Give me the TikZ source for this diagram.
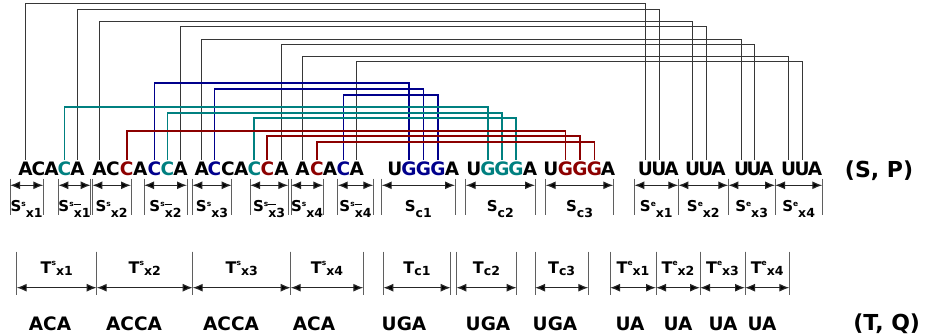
\documentclass[tikz,border=0pt]{standalone}
\usepackage{fontspec}
\setmainfont{DejaVu Sans}
\usetikzlibrary{arrows.meta,calc}
\definecolor{tealc}{RGB}{0,128,128}
\definecolor{bluec}{RGB}{0,0,140}
\definecolor{redc}{RGB}{140,0,0}
\definecolor{conc}{RGB}{55,55,55}
\definecolor{tickc}{RGB}{95,95,95}
\newcommand{\Sl}[3]{{\fontsize{15}{15}\selectfont #1}\raisebox{5pt}{\fontsize{7.5}{7.5}\selectfont #2}\raisebox{-6.5pt}{\fontsize{12.5}{12.5}\selectfont #3}}
\newcommand{\Tl}[3]{{\fontsize{16}{16}\selectfont #1}\raisebox{7.5pt}{\fontsize{7.5}{7.5}\selectfont #2}\raisebox{-2pt}{\fontsize{12.5}{12.5}\selectfont #3}}
\newcommand{\xb}[1]{\makebox[0pt][l]{\raisebox{12.5pt}{\rule{7.5pt}{1pt}}}x#1}
\tikzset{
  let/.style={font=\fontsize{18.5}{18.5}\selectfont\bfseries, anchor=base, inner sep=0pt,
    text height=13.5pt, text depth=0pt, outer ysep=2pt},
  word/.style={font=\fontsize{18.5}{18.5}\selectfont\bfseries, anchor=base, inner sep=0pt},
  big/.style={font=\fontsize{22}{22}\selectfont\bfseries, anchor=base, inner sep=0pt},
  con/.style={draw=conc, line width=0.9pt},
  conb/.style={draw=bluec, line width=1.7pt},
  cont/.style={draw=tealc, line width=1.7pt},
  conr/.style={draw=redc, line width=1.7pt},
  tickline/.style={draw=tickc, line width=1pt},
  dimline/.style={draw=black!85, line width=1.2pt,
    {Latex[length=10pt,width=8pt,fill=black]}-{Latex[length=10pt,width=8pt,fill=black]}},
  slab/.style={font=\bfseries, anchor=base, inner sep=0pt},
}
\begin{document}
\begin{tikzpicture}[x=1pt,y=-1pt]
\useasboundingbox (0,0) rectangle (928,334);
% ---- sequence letters (S, P)
\foreach \x/\c/\t [count=\i] in {25.5/black/A,38.5/black/C,51.5/black/A,64.5/tealc/C,77.5/black/A}
  \node[let,text=\c] (g1l\i) at (\x,175) {\t};
\foreach \x/\c/\t [count=\i] in {99.5/black/A,113/black/C,126.7/redc/C,140.3/black/A,154.5/bluec/C,167.5/tealc/C,180.5/black/A}
  \node[let,text=\c] (g2l\i) at (\x,175) {\t};
\foreach \x/\c/\t [count=\i] in {201.7/black/A,214.5/bluec/C,228/black/C,241.3/black/A,254.3/tealc/C,267.3/redc/C,281.5/black/A}
  \node[let,text=\c] (g3l\i) at (\x,175) {\t};
\foreach \x/\c/\t [count=\i] in {302.5/black/A,316.8/redc/C,330/black/A,343.5/bluec/C,356.8/black/A}
  \node[let,text=\c] (g4l\i) at (\x,175) {\t};
\foreach \x/\c/\t [count=\i] in {395/black/U,409/bluec/G,423.5/bluec/G,438/bluec/G,452/black/A}
  \node[let,text=\c] (c1l\i) at (\x,175) {\t};
\foreach \x/\c/\t [count=\i] in {474/black/U,488/tealc/G,502/tealc/G,516/tealc/G,530/black/A}
  \node[let,text=\c] (c2l\i) at (\x,175) {\t};
\foreach \x/\c/\t [count=\i] in {551/black/U,565.5/redc/G,580/redc/G,594.5/redc/G,608/black/A}
  \node[let,text=\c] (c3l\i) at (\x,175) {\t};
\foreach \x/\t [count=\i] in {645.5/U,659/U,671.5/A}
  \node[let] (e1l\i) at (\x,175) {\t};
\foreach \x/\t [count=\i] in {692.5/U,706/U,718.5/A}
  \node[let] (e2l\i) at (\x,175) {\t};
\foreach \x/\t [count=\i] in {741.5/U,754/U,766.5/A}
  \node[let] (e3l\i) at (\x,175) {\t};
\foreach \x/\t [count=\i] in {788.5/U,802/U,815/A}
  \node[let] (e4l\i) at (\x,175) {\t};
\node[big] (sp) at (879,177) {(S, P)};
% ---- connectors
\draw[con] (g1l1.north) -- ++(0,-156.2) -| (e1l1.north);
\draw[con] (g1l5.north) -- ++(0,-150.5) -| (e1l2.north);
\draw[con] (g2l1.north) -- ++(0,-138.2) -| (e2l1.north);
\draw[con] (g2l7.north) -- ++(0,-132.8) -| (e2l2.north);
\draw[con] (g3l1.north) -- ++(0,-120.5) -| (e3l1.north);
\draw[con] (g3l7.north) -- ++(0,-115.2) -| (e3l2.north);
\draw[con] (g4l1.north) -- ++(0,-103.5) -| (e4l1.north);
\draw[con] (g4l5.north) -- ++(0,-98.2) -| (e4l2.north);
\draw[conb] (g2l5.north) -- ++(0,-76.2) -| (c1l2.north);
\draw[conb] (g3l2.north) -- ++(0,-70.5) -| (c1l3.north);
\draw[conb] (g4l4.north) -- ++(0,-64.5) -| (c1l4.north);
\draw[cont] (g1l4.north) -- ++(0,-52.5) -| (c2l2.north);
\draw[cont] (g2l6.north) -- ++(0,-46.8) -| (c2l3.north);
\draw[cont] (g3l5.north) -- ++(0,-41.2) -| (c2l4.north);
\draw[conr] (g2l3.north) -- ++(0,-28.8) -| (c3l2.north);
\draw[conr] (g3l6.north) -- ++(0,-23.2) -| (c3l3.north);
\draw[conr] (g4l2.north) -- ++(0,-17.5) -| (c3l4.north);
% ---- S row segments
\foreach \l/\r/\t [count=\i] in {
  10/43.3/{\Sl{S}{s}{x1}},
  58.3/90.7/{\Sl{S}{s}{\xb{1}}},
  92.3/131/{\Sl{S}{s}{x2}},
  144/187/{\Sl{S}{s}{\xb{2}}},
  192.3/231.7/{\Sl{S}{s}{x3}},
  250/288.3/{\Sl{S}{s}{\xb{3}}},
  291/323.3/{\Sl{S}{s}{x4}},
  337.7/373.3/{\Sl{S}{s}{\xb{4}}},
  381.7/455/{\Sl{S}{}{c1}},
  465.7/535/{\Sl{S}{}{c2}},
  545.7/613.3/{\Sl{S}{}{c3}},
  634.3/678.3/{\Sl{S}{e}{x1}},
  678.3/728.3/{\Sl{S}{e}{x2}},
  728.3/775/{\Sl{S}{e}{x3}},
  775/822.3/{\Sl{S}{e}{x4}}}{
  \coordinate (sa\i) at (\l,178.7);
  \coordinate (sb\i) at (\r,178.7);
  \coordinate (sc\i) at (\l,215.3);
  \coordinate (sd\i) at (\r,215.3);
  \draw[tickline] (sa\i) -- (sc\i) (sb\i) -- (sd\i);
  \draw[dimline] ($(sa\i)+(0,6.6)$) -- ($(sb\i)+(0,6.6)$);
  \node[slab] (sl\i) at ({(\l+\r)/2},211) {\t};
}
% ---- T row segments
\foreach \l/\r/\t [count=\i] in {
  16.7/96.7/{\Tl{T}{s}{x1}},
  96.7/192.7/{\Tl{T}{s}{x2}},
  192.7/290.7/{\Tl{T}{s}{x3}},
  290.7/363.3/{\Tl{T}{s}{x4}},
  383.3/450.7/{\Tl{T}{}{c1}},
  456.3/516.7/{\Tl{T}{}{c2}},
  535/588.3/{\Tl{T}{}{c3}},
  610/656/{\Tl{T}{e}{x1}},
  656/700/{\Tl{T}{e}{x2}},
  700/745/{\Tl{T}{e}{x3}},
  745/789.3/{\Tl{T}{e}{x4}}}{
  \coordinate (ta\i) at (\l,251.7);
  \coordinate (tb\i) at (\r,251.7);
  \coordinate (tc\i) at (\l,295);
  \coordinate (td\i) at (\r,295);
  \draw[tickline] (ta\i) -- (tc\i) (tb\i) -- (td\i);
  \draw[dimline] ($(ta\i)+(0,36)$) -- ($(tb\i)+(0,36)$);
  \node[slab] (tl\i) at ({(\l+\r)/2},273.3) {\t};
}
% ---- (T, Q) words
\foreach \x/\t [count=\i] in {50/ACA,134/ACCA,231/ACCA,314/ACA,404/UGA,488/UGA,555/UGA,630/UA,678/UA,723/UA,762/UA}
  \node[word] (w\i) at (\x,330.5) {\t};
\node[big] (tq) at (886.7,330.5) {(T, Q)};
\end{tikzpicture}
\end{document}
